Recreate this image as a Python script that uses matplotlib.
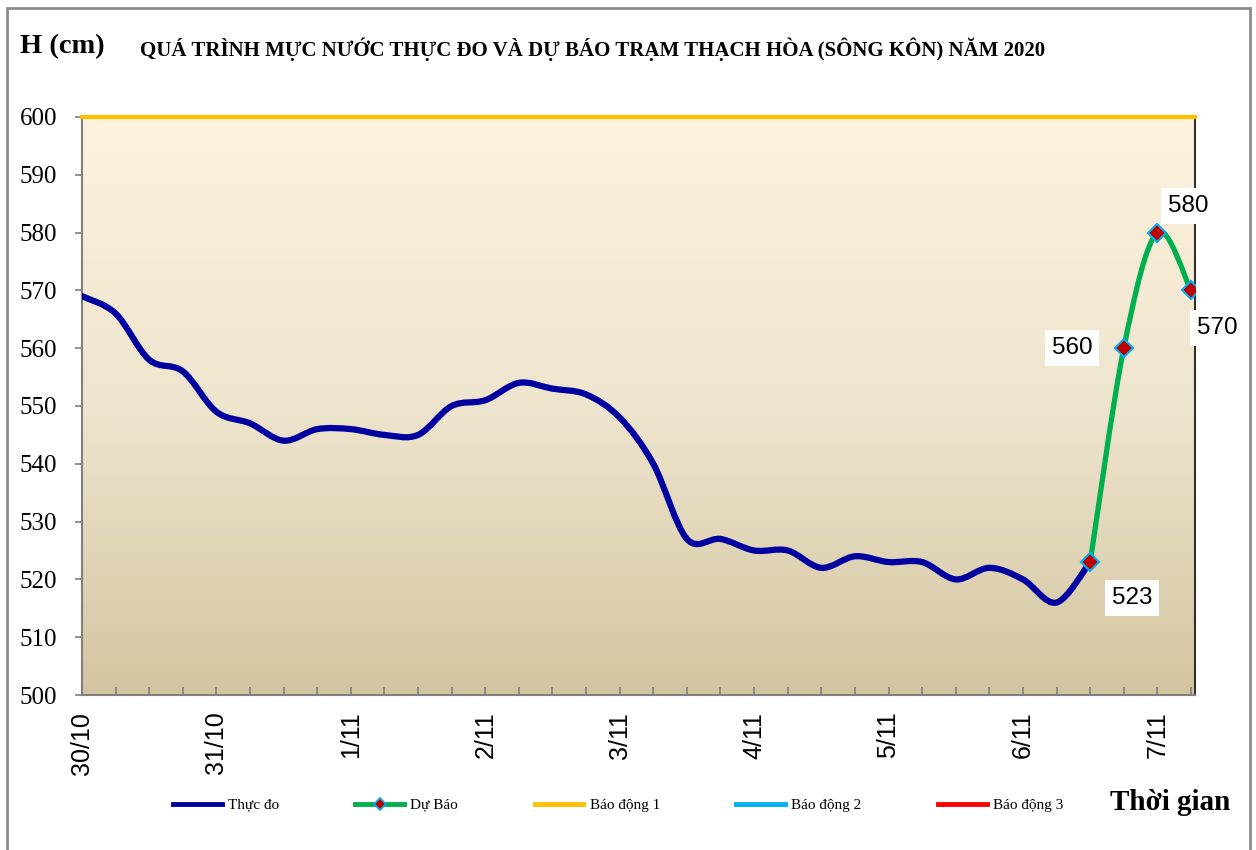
import numpy as np
import matplotlib
matplotlib.use("Agg")
import matplotlib.pyplot as plt
from matplotlib.path import Path
from matplotlib.patches import PathPatch, Rectangle
from matplotlib.lines import Line2D
from matplotlib.colors import LinearSegmentedColormap

# 6-hourly steps starting 30/10 00h
day_labels = ["30/10", "31/10", "1/11", "2/11", "3/11", "4/11", "5/11", "6/11", "7/11"]
steps_per_day = 4

thuc_do = [569, 566, 558, 556, 549, 547, 544, 546, 546, 545, 545, 550, 551, 554,
           553, 552, 548, 540, 527, 527, 525, 525, 522, 524, 523, 523, 520, 522,
           520, 516, 523]
du_bao = [523, 560, 580, 570]
du_bao_start = 30

bao_dong_1 = 600
bao_dong_2 = 700
bao_dong_3 = 800

serif = "Liberation Serif"
sans = "Liberation Sans"


def smooth_path(xs, ys):
    # excel-like smoothed line (catmull-rom as cubic bezier)
    verts = [(xs[0], ys[0])]
    codes = [Path.MOVETO]
    n = len(xs)
    for i in range(n - 1):
        x0, y0 = (xs[i - 1], ys[i - 1]) if i > 0 else (xs[i], ys[i])
        x3, y3 = (xs[i + 2], ys[i + 2]) if i + 2 < n else (xs[i + 1], ys[i + 1])
        c1 = (xs[i] + (xs[i + 1] - x0) / 6.0, ys[i] + (ys[i + 1] - y0) / 6.0)
        c2 = (xs[i + 1] - (x3 - xs[i]) / 6.0, ys[i + 1] - (y3 - ys[i]) / 6.0)
        verts += [c1, c2, (xs[i + 1], ys[i + 1])]
        codes += [Path.CURVE4] * 3
    return Path(verts, codes)


fig = plt.figure(figsize=(12.56, 8.5), dpi=100)
ax = fig.add_axes([82 / 1256, 1 - 695 / 850, (1195 - 82) / 1256, (695 - 117) / 850])

cmap = LinearSegmentedColormap.from_list("bg", ["#D4C5A1", "#EEE5CE", "#FEF3DE"])
ax.imshow(np.linspace(0, 1, 256).reshape(-1, 1), cmap=cmap, origin="lower",
          extent=[0, 1, 0, 1], transform=ax.transAxes, aspect="auto", zorder=0)

x_obs = np.arange(len(thuc_do))
x_fc = np.arange(du_bao_start, du_bao_start + len(du_bao))
n_steps = du_bao_start + len(du_bao) - 1

ax.add_patch(PathPatch(smooth_path(x_obs, thuc_do), fill=False, edgecolor="#0000A0",
                       lw=4.5, capstyle="round", joinstyle="round", zorder=3))
ax.add_patch(PathPatch(smooth_path(x_fc, du_bao), fill=False, edgecolor="#00B050",
                       lw=3.8, capstyle="round", joinstyle="round", zorder=4))
ax.plot(x_fc, du_bao, ls="none", marker="D", ms=9.5, mfc="#C00000", mec="#00B0F0",
        mew=1.5, zorder=5)

xmax = n_steps + 0.12
ax.plot([0, xmax], [bao_dong_1, bao_dong_1], color="#FFC000", lw=3, clip_on=False, zorder=6)
ax.plot([0, xmax], [bao_dong_2, bao_dong_2], color="#00B0F0", lw=3)
ax.plot([0, xmax], [bao_dong_3, bao_dong_3], color="#FF0000", lw=3)

label_offsets = [(30, -26), (-37, 0), (22, 19), (19, -27)]
for xi, yi, off in zip(x_fc, du_bao, label_offsets):
    ax.annotate(str(yi), (xi, yi), xytext=off, textcoords="offset points",
                ha="center", va="center", fontsize=17.5, family=sans,
                bbox=dict(boxstyle="square,pad=0.28", fc="white", ec="none"), zorder=7)

ax.set_xlim(0, xmax)
ax.set_ylim(500, 600)
ax.set_yticks(np.arange(500, 601, 10))
ax.set_xticks(np.arange(0, n_steps + 1))
ax.set_xticklabels([day_labels[i // steps_per_day] if i % steps_per_day == 0 else ""
                    for i in range(n_steps + 1)])
ax.tick_params(axis="x", direction="in", length=6, width=1.2, color="#808080",
               pad=12, labelrotation=90, labelsize=18)
ax.tick_params(axis="y", direction="out", length=5, width=1.2, color="#808080",
               pad=13, labelsize=18)
for lbl in ax.get_xticklabels():
    lbl.set_family(sans)
for lbl in ax.get_yticklabels():
    lbl.set_family(serif)

ax.spines["top"].set_visible(False)
ax.spines["left"].set_color("#808080")
ax.spines["bottom"].set_color("#808080")
ax.spines["right"].set_color("#303030")
for s in ["left", "bottom", "right"]:
    ax.spines[s].set_linewidth(1.5)

fig.text(20 / 1256, 1 - 47 / 850, "H (cm)", family=serif, weight="bold", fontsize=20.5,
         va="center", ha="left")
fig.text(140 / 1256, 1 - 49 / 850,
         "QUÁ TRÌNH MỰC NƯỚC THỰC ĐO VÀ DỰ BÁO TRẠM THẠCH HÒA (SÔNG KÔN) NĂM 2020",
         family=serif, weight="bold", fontsize=15, va="center", ha="left")
fig.text(1170 / 1256, 1 - 802 / 850, "Thời gian", family=serif, weight="bold",
         fontsize=21, va="center", ha="center")

handles = [
    Line2D([], [], color="#0000A0", lw=3.5),
    Line2D([], [], color="#00B050", lw=3.5, marker="D", ms=6, mfc="#C00000",
           mec="#00B0F0", mew=1.2),
    Line2D([], [], color="#FFC000", lw=3.5),
    Line2D([], [], color="#00B0F0", lw=3.5),
    Line2D([], [], color="#FF0000", lw=3.5),
]
labels = ["Thực đo", "Dự Báo", "Báo động 1", "Báo động 2", "Báo động 3"]
fig.legend(handles, labels, loc="center", bbox_to_anchor=(0.492, 1 - 805 / 850), ncol=5,
           frameon=False, prop={"family": serif, "size": 11}, handlelength=3.2,
           columnspacing=5.0, handletextpad=0.4)

fig.patches.append(Rectangle((7 / 1256, -0.05), (1250 - 7) / 1256, 1 + 0.05 - 8 / 850,
                             transform=fig.transFigure, fill=False, ec="#8C8C8C", lw=2))

fig.savefig("out.png", dpi=100)
